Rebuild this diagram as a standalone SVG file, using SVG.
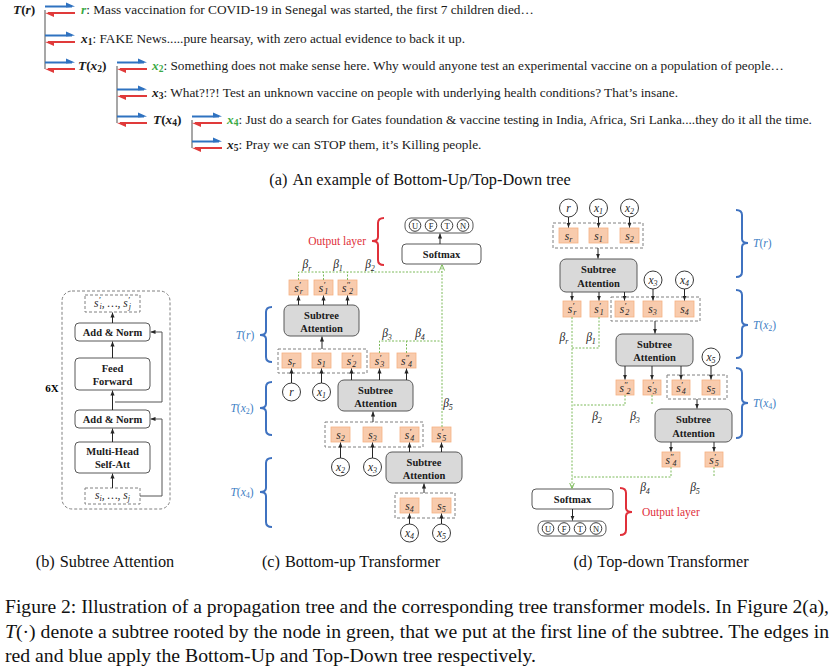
<svg xmlns="http://www.w3.org/2000/svg" width="836" height="670" viewBox="0 0 836 670">
<defs>
<style>
text{font-family:"Liberation Serif","Times New Roman",serif}
.tx{font-size:13.3px;fill:#1a1a1a}
.bi{font-weight:bold;font-style:italic}
.it{font-style:italic}
.sb{font-size:9.5px}
.gr{fill:#3aaa45}
.lab{font-weight:bold;font-size:10.5px;text-anchor:middle;fill:#1a1a1a}
.m{font-style:italic;font-size:11.5px;text-anchor:middle;fill:#262626}
.s7{font-size:8px}
.p{font-size:9px}
.cap{font-size:16.3px;text-anchor:middle;fill:#111}
.fig{font-size:18.5px;fill:#111}
.bl{fill:#3f7fc5;font-size:11.5px}
.rd{fill:#e0303a;font-size:11.5px}
.box{fill:#fff;stroke:#595959;stroke-width:1}
.sa{fill:#d9d9d9;stroke:#595959;stroke-width:1}
.or{fill:#f8cbad;stroke:#f4b183;stroke-width:0.8}
.dg{fill:none;stroke:#808080;stroke-width:1;stroke-dasharray:3 2}
.ci{fill:#fff;stroke:#3a3a3a;stroke-width:1}
.a{stroke:#262626;stroke-width:1;fill:none;marker-end:url(#ah)}
.gn{stroke:#7cba5a;stroke-width:1;fill:none;stroke-dasharray:2 1.5}
.bb{stroke:#3f72c0;stroke-width:2;fill:none}
.rb{stroke:#e0303a;stroke-width:2;fill:none}
.tl{stroke:#8a8a8a;stroke-width:1.5;fill:none}
.ul{font-size:8.5px;text-anchor:middle;fill:#222}
</style>
<marker id="ah" viewBox="0 0 6 6" refX="6" refY="3" markerWidth="5" markerHeight="5" orient="auto" markerUnits="userSpaceOnUse"><path d="M0,0.5 L6,3 L0,5.5z" fill="#262626"/></marker>
<marker id="ag" viewBox="0 0 6 6" refX="6" refY="3" markerWidth="6" markerHeight="6" orient="auto" markerUnits="userSpaceOnUse"><path d="M0,0.5 L6,3 L0,5.5" fill="none" stroke="#7cba5a" stroke-width="1"/></marker>
<g id="dbl">
 <path d="M0,-3.5 H27" stroke="#2f72c0" stroke-width="2"/>
 <path d="M30,-3.5 L21,-7.5 L21,-2.5z" fill="#2f72c0"/>
 <path d="M3,3 H30" stroke="#e03a3a" stroke-width="2"/>
 <path d="M0,3 L9,7 L9,2z" fill="#e03a3a"/>
</g>
<g id="ufn">
 <rect x="0" y="0" width="68" height="15" rx="6" class="box"/>
 <circle cx="10" cy="7.5" r="5.8" class="ci"/><text class="ul" x="10" y="10.5">U</text>
 <circle cx="26" cy="7.5" r="5.8" class="ci"/><text class="ul" x="26" y="10.5">F</text>
 <circle cx="42" cy="7.5" r="5.8" class="ci"/><text class="ul" x="42" y="10.5">T</text>
 <circle cx="58" cy="7.5" r="5.8" class="ci"/><text class="ul" x="58" y="10.5">N</text>
</g>
</defs>
<rect width="836" height="670" fill="#fff"/>

<!-- (a) tree -->
<g id="a-edges">
 <path class="tl" d="M45,10 V69"/>
 <path class="tl" d="M117,66 V123"/>
 <path class="tl" d="M192,120 V148"/>
 <use href="#dbl" x="45" y="10"/>
 <use href="#dbl" x="45" y="39"/>
 <use href="#dbl" x="45" y="66"/>
 <use href="#dbl" x="117" y="66"/>
 <use href="#dbl" x="117" y="93"/>
 <use href="#dbl" x="117" y="120"/>
 <use href="#dbl" x="192" y="120"/>
 <use href="#dbl" x="192" y="145"/>
</g>
<g id="a-Tr"><text class="tx" x="13" y="14" font-weight="bold" font-size="13.5"><tspan class="it">T</tspan>(<tspan class="it">r</tspan>)</text></g>
<g id="a-r"><text class="tx" x="81" y="14"><tspan class="gr bi">r</tspan>: Mass vaccination for COVID-19 in Senegal was started, the first 7 children died…</text></g>
<g id="a-x1"><text class="tx" x="81" y="43"><tspan class="bi">x</tspan><tspan class="sb" font-weight="bold" dy="2">1</tspan><tspan dy="-2">: FAKE News.....pure hearsay, with zero actual evidence to back it up.</tspan></text></g>
<g id="a-Tx2"><text class="tx" x="78" y="70" font-weight="bold" font-size="13.5"><tspan class="it">T</tspan>(<tspan class="it">x</tspan><tspan class="sb" dy="2">2</tspan><tspan dy="-2">)</tspan></text></g>
<g id="a-x2"><text class="tx" x="152" y="70"><tspan class="gr bi">x</tspan><tspan class="gr sb" font-weight="bold" dy="2">2</tspan><tspan dy="-2">: Something does not make sense here. Why would anyone test an experimental vaccine on a population of people…</tspan></text></g>
<g id="a-x3"><text class="tx" x="152" y="97"><tspan class="bi">x</tspan><tspan class="sb" font-weight="bold" dy="2">3</tspan><tspan dy="-2">:  What?!?! Test an unknown vaccine on people with underlying health conditions? That’s insane.</tspan></text></g>
<g id="a-Tx4"><text class="tx" x="153" y="124" font-weight="bold" font-size="13.5"><tspan class="it">T</tspan>(<tspan class="it">x</tspan><tspan class="sb" dy="2">4</tspan><tspan dy="-2">)</tspan></text></g>
<g id="a-x4"><text class="tx" x="227" y="124"><tspan class="gr bi">x</tspan><tspan class="gr sb" font-weight="bold" dy="2">4</tspan><tspan dy="-2">: Just do a search for Gates foundation &amp; vaccine testing in India, Africa, Sri Lanka....they do it all the time.</tspan></text></g>
<g id="a-x5"><text class="tx" x="227" y="149"><tspan class="bi">x</tspan><tspan class="sb" font-weight="bold" dy="2">5</tspan><tspan dy="-2">: Pray we can STOP them, it’s Killing people.</tspan></text></g>
<text class="cap" x="420" y="185">(a)<tspan dx="5">An example of Bottom-Up/Top-Down tree</tspan></text>

<!-- (b) subtree attention -->
<g id="b-frame"><rect class="dg" x="62" y="291" width="108" height="218" rx="10"/><text x="52" y="392" font-weight="bold" font-size="11" text-anchor="middle">6X</text></g>
<g id="b-out"><rect class="dg" x="85" y="295" width="55" height="17"/><text class="m" x="112.5" y="307" font-size="10.5">s<tspan class="p" dy="-4">′</tspan><tspan class="s7" dx="-1" dy="6">i</tspan><tspan dy="-2">, …, s</tspan><tspan class="p" dy="-4">′</tspan><tspan class="s7" dx="-1" dy="6">j</tspan></text></g>
<g id="b-an2"><rect class="box" x="75" y="323" width="75" height="18" rx="4"/><text class="lab" x="112.5" y="336">Add &amp; Norm</text></g>
<g id="b-ff"><rect class="box" x="75" y="358" width="75" height="32" rx="4"/><text class="lab" x="112.5" y="372">Feed</text><text class="lab" x="112.5" y="385">Forward</text></g>
<g id="b-an1"><rect class="box" x="75" y="410" width="75" height="18" rx="4"/><text class="lab" x="112.5" y="423">Add &amp; Norm</text></g>
<g id="b-mh"><rect class="box" x="75" y="442" width="75" height="31" rx="4"/><text class="lab" x="112.5" y="455">Multi-Head</text><text class="lab" x="112.5" y="468">Self-Att</text></g>
<g id="b-in"><rect class="dg" x="85" y="488" width="55" height="16"/><text class="m" x="112.5" y="499" font-size="10.5">s<tspan class="s7" dy="2">i</tspan><tspan dy="-2">, …, s</tspan><tspan class="s7" dy="2">j</tspan></text></g>
<g id="b-edges">
 <path class="a" d="M112.5,488 V473.5"/>
 <path class="a" d="M112.5,442 V428.5"/>
 <path class="a" d="M112.5,410 V390.5"/>
 <path class="a" d="M112.5,358 V341.5"/>
 <path class="a" d="M112.5,323 V312.5"/>
 <path class="a" d="M140,496 H162 V419 H150.5" style="stroke:#555"/>
 <path class="a" d="M115,402 H162 V332 H150.5" style="stroke:#555"/>
</g>
<text class="cap" x="105" y="567">(b)<tspan dx="5">Subtree Attention</tspan></text>

<!-- (c) bottom-up -->
<g id="c-out"><use href="#ufn" x="405" y="218"/></g>
<g id="c-softmax"><rect class="box" x="402" y="244" width="79" height="20" rx="4"/><text class="lab" x="441.5" y="258">Softmax</text></g>
<g id="c-outlayer"><path class="rb" d="M384,218 Q378,218 378,223 V237 Q378,241 372,241 Q378,241 378,245 V260 Q378,265 384,265"/><text class="rd" x="366" y="245" text-anchor="end">Output layer</text></g>
<g id="c-betas">
 <text class="m" x="307" y="268">β<tspan class="s7" dy="3">r</tspan></text>
 <text class="m" x="338" y="268">β<tspan class="s7" dy="3">1</tspan></text>
 <text class="m" x="370" y="268">β<tspan class="s7" dy="3">2</tspan></text>
 <text class="m" x="387" y="337">β<tspan class="s7" dy="3">3</tspan></text>
 <text class="m" x="420" y="337">β<tspan class="s7" dy="3">4</tspan></text>
 <text class="m" x="448" y="407">β<tspan class="s7" dy="3">5</tspan></text>
</g>
<g id="c-top">
 <rect class="or" x="289" y="280" width="19" height="15"/><text class="m" x="298.5" y="291.5">s<tspan class="p" dy="-4">′</tspan><tspan class="s7" dx="-1" dy="6">r</tspan></text>
 <rect class="or" x="314" y="280" width="19" height="15"/><text class="m" x="323.5" y="291.5">s<tspan class="p" dy="-4">′</tspan><tspan class="s7" dx="-1" dy="6">1</tspan></text>
 <rect class="or" x="338" y="280" width="19" height="15"/><text class="m" x="347.5" y="291.5">s<tspan class="p" dy="-4">″</tspan><tspan class="s7" dx="-1" dy="6">2</tspan></text>
</g>
<g id="c-sa1"><rect class="sa" x="284" y="305" width="75" height="31" rx="6"/><text class="lab" x="321.5" y="318.5" font-size="11">Subtree</text><text class="lab" x="321.5" y="331.5" font-size="11">Attention</text></g>
<g id="c-gr">
 <rect class="dg" x="278" y="349" width="89" height="24"/>
 <rect class="or" x="282" y="353" width="19" height="15"/><text class="m" x="291.5" y="364.5">s<tspan class="s7" dy="2">r</tspan></text>
 <rect class="or" x="312" y="353" width="19" height="15"/><text class="m" x="321.5" y="364.5">s<tspan class="s7" dy="2">1</tspan></text>
 <rect class="or" x="342" y="353" width="19" height="15"/><text class="m" x="351.5" y="364.5">s<tspan class="p" dy="-4">′</tspan><tspan class="s7" dx="-1" dy="6">2</tspan></text>
</g>
<g id="c-s3">
 <rect class="or" x="370" y="353" width="19" height="15"/><text class="m" x="379.5" y="364.5">s<tspan class="p" dy="-4">′</tspan><tspan class="s7" dx="-1" dy="6">3</tspan></text>
 <rect class="or" x="397" y="353" width="19" height="15"/><text class="m" x="406.5" y="364.5">s<tspan class="p" dy="-4">″</tspan><tspan class="s7" dx="-1" dy="6">4</tspan></text>
</g>
<g id="c-r"><circle class="ci" cx="291.5" cy="392" r="9"/><text class="m" x="291.5" y="395.5">r</text></g>
<g id="c-x1"><circle class="ci" cx="321.5" cy="392" r="9"/><text class="m" x="321.5" y="395.5">x<tspan class="s7" dy="2">1</tspan></text></g>
<g id="c-sa2"><rect class="sa" x="338" y="380" width="75" height="31" rx="6"/><text class="lab" x="375.5" y="393.5" font-size="11">Subtree</text><text class="lab" x="375.5" y="406.5" font-size="11">Attention</text></g>
<g id="c-gx2">
 <rect class="dg" x="325" y="422" width="98" height="25"/>
 <rect class="or" x="331" y="427" width="19" height="15"/><text class="m" x="340.5" y="438.5">s<tspan class="s7" dy="2">2</tspan></text>
 <rect class="or" x="363" y="427" width="19" height="15"/><text class="m" x="372.5" y="438.5">s<tspan class="s7" dy="2">3</tspan></text>
 <rect class="or" x="400" y="427" width="19" height="15"/><text class="m" x="409.5" y="438.5">s<tspan class="p" dy="-4">′</tspan><tspan class="s7" dx="-1" dy="6">4</tspan></text>
</g>
<g id="c-s5p"><rect class="or" x="432" y="427" width="19" height="15"/><text class="m" x="441.5" y="438.5">s<tspan class="p" dy="-4">′</tspan><tspan class="s7" dx="-1" dy="6">5</tspan></text></g>
<g id="c-x2"><circle class="ci" cx="340.5" cy="467" r="9"/><text class="m" x="340.5" y="470.5">x<tspan class="s7" dy="2">2</tspan></text></g>
<g id="c-x3"><circle class="ci" cx="372.5" cy="467" r="9"/><text class="m" x="372.5" y="470.5">x<tspan class="s7" dy="2">3</tspan></text></g>
<g id="c-sa3"><rect class="sa" x="386" y="452" width="76" height="31" rx="6"/><text class="lab" x="424" y="465.5" font-size="11">Subtree</text><text class="lab" x="424" y="478.5" font-size="11">Attention</text></g>
<g id="c-gx4">
 <rect class="dg" x="395" y="493" width="60" height="25"/>
 <rect class="or" x="400" y="498" width="19" height="15"/><text class="m" x="409.5" y="509.5">s<tspan class="s7" dy="2">4</tspan></text>
 <rect class="or" x="432" y="498" width="19" height="15"/><text class="m" x="441.5" y="509.5">s<tspan class="s7" dy="2">5</tspan></text>
</g>
<g id="c-x4"><circle class="ci" cx="409.5" cy="533" r="9"/><text class="m" x="409.5" y="536.5">x<tspan class="s7" dy="2">4</tspan></text></g>
<g id="c-x5"><circle class="ci" cx="441.5" cy="533" r="9"/><text class="m" x="441.5" y="536.5">x<tspan class="s7" dy="2">5</tspan></text></g>
<g id="c-braces">
 <path class="bb" d="M272,307 Q266,307 266,312 V331 Q266,335 260,335 Q266,335 266,339 V357 Q266,362 272,362"/>
 <text class="bl" x="245" y="339" text-anchor="middle"><tspan class="it">T</tspan>(<tspan class="it">r</tspan>)</text>
 <path class="bb" d="M272,382 Q266,382 266,387 V404 Q266,408 260,408 Q266,408 266,412 V430 Q266,435 272,435"/>
 <text class="bl" x="242" y="412" text-anchor="middle"><tspan class="it">T</tspan>(<tspan class="it">x</tspan><tspan class="s7" dy="2">2</tspan><tspan dy="-2">)</tspan></text>
 <path class="bb" d="M272,458 Q266,458 266,463 V488 Q266,492 260,492 Q266,492 266,496 V522 Q266,527 272,527"/>
 <text class="bl" x="242" y="496" text-anchor="middle"><tspan class="it">T</tspan>(<tspan class="it">x</tspan><tspan class="s7" dy="2">4</tspan><tspan dy="-2">)</tspan></text>
</g>
<g id="c-edges">
 <path class="a" d="M440,244 V233.5"/>
 <path class="a" d="M298.5,305 V295.5"/>
 <path class="a" d="M323.5,305 V295.5"/>
 <path class="a" d="M347.5,305 V295.5"/>
 <path class="a" d="M322,349 V336.5"/>
 <path class="a" d="M291.5,383 V368.5"/>
 <path class="a" d="M321.5,383 V368.5"/>
 <path class="a" d="M351.5,380 V368.5"/>
 <path class="a" d="M379.5,380 V368.5"/>
 <path class="a" d="M406.5,380 V368.5"/>
 <path class="a" d="M373,422 V411.5"/>
 <path class="a" d="M340.5,458 V442.5"/>
 <path class="a" d="M372.5,458 V442.5"/>
 <path class="a" d="M409.5,452 V442.5"/>
 <path class="a" d="M441.5,452 V442.5"/>
 <path class="a" d="M424,493 V483.5"/>
 <path class="a" d="M409.5,524 V513.5"/>
 <path class="a" d="M441.5,524 V513.5"/>
 <path class="gn" d="M298.5,280 V272 H442"/>
 <path class="gn" d="M323.5,280 V272"/>
 <path class="gn" d="M347.5,280 V272"/>
 <path class="gn" d="M379.5,353 V341 H442"/>
 <path class="gn" d="M406.5,353 V341"/>
 <path class="gn" d="M442,427 V264.5" marker-end="url(#ag)"/>
</g>
<text class="cap" x="351" y="567">(c)<tspan dx="5">Bottom-up Transformer</tspan></text>

<!-- (d) top-down -->
<g id="d-r"><circle class="ci" cx="568.5" cy="208" r="9"/><text class="m" x="568.5" y="211.5">r</text></g>
<g id="d-x1"><circle class="ci" cx="598.5" cy="208" r="9"/><text class="m" x="598.5" y="211.5">x<tspan class="s7" dy="2">1</tspan></text></g>
<g id="d-x2"><circle class="ci" cx="629.5" cy="208" r="9"/><text class="m" x="629.5" y="211.5">x<tspan class="s7" dy="2">2</tspan></text></g>
<g id="d-gr">
 <rect class="dg" x="553" y="223" width="90" height="25"/>
 <rect class="or" x="559" y="228" width="19" height="15"/><text class="m" x="568.5" y="239.5">s<tspan class="s7" dy="2">r</tspan></text>
 <rect class="or" x="589" y="228" width="19" height="15"/><text class="m" x="598.5" y="239.5">s<tspan class="s7" dy="2">1</tspan></text>
 <rect class="or" x="620" y="228" width="19" height="15"/><text class="m" x="629.5" y="239.5">s<tspan class="s7" dy="2">2</tspan></text>
</g>
<g id="d-sa1"><rect class="sa" x="560" y="259" width="77" height="33" rx="6"/><text class="lab" x="598.5" y="273" font-size="11">Subtree</text><text class="lab" x="598.5" y="286.5" font-size="11">Attention</text></g>
<g id="d-x3"><circle class="ci" cx="653" cy="280" r="9"/><text class="m" x="653" y="283.5">x<tspan class="s7" dy="2">3</tspan></text></g>
<g id="d-x4"><circle class="ci" cx="684.5" cy="280" r="9"/><text class="m" x="684.5" y="283.5">x<tspan class="s7" dy="2">4</tspan></text></g>
<g id="d-s1p">
 <rect class="or" x="563" y="301" width="18" height="16"/><text class="m" x="572" y="313">s<tspan class="p" dy="-4">′</tspan><tspan class="s7" dx="-1" dy="6">r</tspan></text>
 <rect class="or" x="590" y="301" width="18" height="16"/><text class="m" x="599" y="313">s<tspan class="p" dy="-4">′</tspan><tspan class="s7" dx="-1" dy="6">1</tspan></text>
</g>
<g id="d-gx2">
 <rect class="dg" x="611" y="297" width="89" height="24"/>
 <rect class="or" x="615" y="301" width="19" height="16"/><text class="m" x="624.5" y="313">s<tspan class="p" dy="-4">′</tspan><tspan class="s7" dx="-1" dy="6">2</tspan></text>
 <rect class="or" x="643" y="301" width="19" height="16"/><text class="m" x="652.5" y="313">s<tspan class="s7" dy="2">3</tspan></text>
 <rect class="or" x="675" y="301" width="19" height="16"/><text class="m" x="684.5" y="313">s<tspan class="s7" dy="2">4</tspan></text>
</g>
<g id="d-sa2"><rect class="sa" x="616" y="334" width="77" height="32" rx="6"/><text class="lab" x="654.5" y="347.5" font-size="11">Subtree</text><text class="lab" x="654.5" y="361" font-size="11">Attention</text></g>
<g id="d-x5"><circle class="ci" cx="711" cy="357" r="9"/><text class="m" x="711" y="360.5">x<tspan class="s7" dy="2">5</tspan></text></g>
<g id="d-s2">
 <rect class="or" x="616" y="380" width="18" height="15"/><text class="m" x="625" y="391.5">s<tspan class="p" dy="-4">″</tspan><tspan class="s7" dx="-1" dy="6">2</tspan></text>
 <rect class="or" x="643" y="380" width="18" height="15"/><text class="m" x="652" y="391.5">s<tspan class="p" dy="-4">′</tspan><tspan class="s7" dx="-1" dy="6">3</tspan></text>
</g>
<g id="d-gx4">
 <rect class="dg" x="667" y="375" width="60" height="24"/>
 <rect class="or" x="672" y="380" width="18" height="15"/><text class="m" x="681" y="391.5">s<tspan class="p" dy="-4">′</tspan><tspan class="s7" dx="-1" dy="6">4</tspan></text>
 <rect class="or" x="702" y="380" width="18" height="15"/><text class="m" x="711" y="391.5">s<tspan class="s7" dy="2">5</tspan></text>
</g>
<g id="d-sa3"><rect class="sa" x="655" y="409" width="77" height="33" rx="6"/><text class="lab" x="693.5" y="423" font-size="11">Subtree</text><text class="lab" x="693.5" y="436.5" font-size="11">Attention</text></g>
<g id="d-s3">
 <rect class="or" x="662" y="452" width="18" height="15"/><text class="m" x="671" y="463.5">s<tspan class="p" dy="-4">″</tspan><tspan class="s7" dx="-1" dy="6">4</tspan></text>
 <rect class="or" x="705" y="452" width="18" height="15"/><text class="m" x="714" y="463.5">s<tspan class="p" dy="-4">′</tspan><tspan class="s7" dx="-1" dy="6">5</tspan></text>
</g>
<g id="d-betas">
 <text class="m" x="564" y="341">β<tspan class="s7" dy="3">r</tspan></text>
 <text class="m" x="591" y="341">β<tspan class="s7" dy="3">1</tspan></text>
 <text class="m" x="597" y="420">β<tspan class="s7" dy="3">2</tspan></text>
 <text class="m" x="635" y="420">β<tspan class="s7" dy="3">3</tspan></text>
 <text class="m" x="645" y="491">β<tspan class="s7" dy="3">4</tspan></text>
 <text class="m" x="695" y="491">β<tspan class="s7" dy="3">5</tspan></text>
</g>
<g id="d-softmax"><rect class="box" x="532" y="489" width="81" height="20" rx="4"/><text class="lab" x="572.5" y="503">Softmax</text></g>
<g id="d-out"><use href="#ufn" x="538" y="521"/></g>
<g id="d-outlayer"><path class="rb" d="M620,488 Q626,488 626,493 V508 Q626,512 632,512 Q626,512 626,516 V530 Q626,535 620,535"/><text class="rd" x="642" y="516">Output layer</text></g>
<g id="d-braces">
 <path class="bb" d="M736,210 Q742,210 742,215 V239 Q742,243 748,243 Q742,243 742,247 V272 Q742,277 736,277"/>
 <text class="bl" x="753" y="247"><tspan class="it">T</tspan>(<tspan class="it">r</tspan>)</text>
 <path class="bb" d="M736,290 Q742,290 742,295 V321 Q742,325 748,325 Q742,325 742,329 V353 Q742,358 736,358"/>
 <text class="bl" x="753" y="329"><tspan class="it">T</tspan>(<tspan class="it">x</tspan><tspan class="s7" dy="2">2</tspan><tspan dy="-2">)</tspan></text>
 <path class="bb" d="M736,368 Q742,368 742,373 V399 Q742,403 748,403 Q742,403 742,407 V433 Q742,438 736,438"/>
 <text class="bl" x="753" y="407"><tspan class="it">T</tspan>(<tspan class="it">x</tspan><tspan class="s7" dy="2">4</tspan><tspan dy="-2">)</tspan></text>
</g>
<g id="d-edges">
 <path class="a" d="M568.5,217 V227.5"/>
 <path class="a" d="M598.5,217 V227.5"/>
 <path class="a" d="M629.5,217 V227.5"/>
 <path class="a" d="M598,248 V258.5"/>
 <path class="a" d="M572,292 V300.5"/>
 <path class="a" d="M599,292 V300.5"/>
 <path class="a" d="M624.5,292 V300.5"/>
 <path class="a" d="M653,289 V300.5"/>
 <path class="a" d="M684.5,289 V300.5"/>
 <path class="a" d="M655,321 V333.5"/>
 <path class="a" d="M625,366 V379.5"/>
 <path class="a" d="M652,366 V379.5"/>
 <path class="a" d="M681,366 V379.5"/>
 <path class="a" d="M711,366 V379.5"/>
 <path class="a" d="M697,399 V408.5"/>
 <path class="a" d="M671,442 V451.5"/>
 <path class="a" d="M714,442 V451.5"/>
 <path class="a" d="M572.5,509 V520.5"/>
 <path class="gn" d="M572,317 V488.5" marker-end="url(#ag)"/>
 <path class="gn" d="M599,317 V348 H572"/>
 <path class="gn" d="M625,395 V405 H572"/>
 <path class="gn" d="M652,395 V405"/>
 <path class="gn" d="M671,467 V477 H572"/>
 <path class="gn" d="M714,467 V477"/>
</g>
<text class="cap" x="661" y="567">(d)<tspan dx="5">Top-down Transformer</tspan></text>

<!-- figure caption -->
<text class="fig" x="5" y="613" textLength="824" lengthAdjust="spacingAndGlyphs">Figure 2: Illustration of a propagation tree and the corresponding tree transformer models. In Figure 2(a),</text>
<text class="fig" x="5" y="638" textLength="824" lengthAdjust="spacingAndGlyphs"><tspan class="it">T</tspan>(·) denote a subtree rooted by the node in green, that we put at the first line of the subtree. The edges in</text>
<text class="fig" x="5" y="662" textLength="531" lengthAdjust="spacingAndGlyphs">red and blue apply the Bottom-Up and Top-Down tree respectively.</text>
</svg>
